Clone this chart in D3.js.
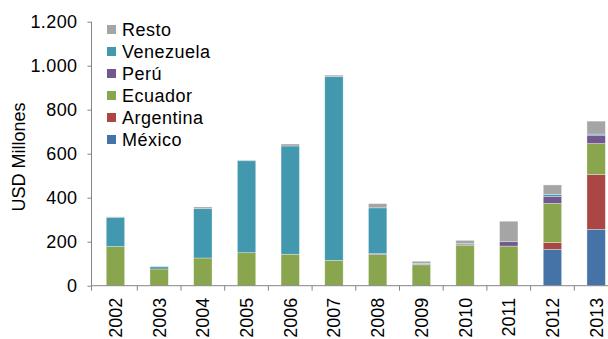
<!DOCTYPE html>
<html>
<head>
<meta charset="utf-8">
<script src="https://cdn.jsdelivr.net/npm/d3@7"></script>
<style>
  body { margin: 0; background: #fff; }
  text { font-family: "Liberation Sans", Arial, sans-serif; fill: #000; }
</style>
</head>
<body>
<svg id="chart" width="608" height="339"></svg>
<script>
// years along the x axis
const years = ['2002', '2003', '2004', '2005', '2006', '2007', '2008', '2009', '2010', '2011', '2012', '2013'];

// stacked series, bottom to top (USD millones)
const mexico    = [0, 0, 0, 0, 0, 0, 0, 0, 0, 0, 165, 256];
const argentina = [0, 0, 0, 0, 0, 0, 0, 0, 0, 0, 31, 249];
const ecuador   = [178, 76, 126, 150, 143, 115, 142, 95, 184, 180, 178, 141];
const peru      = [0, 0, 0, 0, 0, 0, 4, 3, 5, 20, 31, 38];
const venezuela = [133, 10, 224, 418, 492, 835, 208, 3, 2, 0, 10, 5];
const resto     = [2, 2, 8, 3, 9, 7, 19, 10, 15, 93, 43, 59];

const seriesNames = ['México', 'Argentina', 'Ecuador', 'Perú', 'Venezuela', 'Resto'];
const seriesValues = [mexico, argentina, ecuador, peru, venezuela, resto];
const colors = ['#4572A7', '#AA4643', '#89A54E', '#71588F', '#4198AF', '#A5A5A5'];

const yTicks = [0, 200, 400, 600, 800, 1000, 1200];

const svg = d3.select('#chart');
const axisX = 91.5, left = 93.6, step = 43.7;

const x = d3.scaleBand()
  .domain(years)
  .range([left, left + step * years.length])
  .paddingInner(0.58)
  .paddingOuter(0.29);

const y = d3.scaleLinear()
  .domain([0, 1200])
  .range([285.7, 21.7]);

const table = years.map((yr, i) => {
  const row = { year: yr };
  seriesNames.forEach((s, j) => { row[s] = seriesValues[j][i]; });
  return row;
});
const stacked = d3.stack().keys(seriesNames)(table);

// bars
svg.append('g')
  .selectAll('g')
  .data(stacked)
  .join('g')
  .attr('fill', (d, i) => colors[i])
  .selectAll('rect')
  .data(d => d)
  .join('rect')
  .attr('x', d => x(d.data.year))
  .attr('width', x.bandwidth())
  .attr('y', d => y(d[1]))
  .attr('height', d => Math.max(0, y(d[0]) - y(d[1])))
  .attr('stroke', 'rgba(255,255,255,0.45)')
  .attr('stroke-width', 0.7);

// y axis
const yAxis = svg.append('g')
  .attr('transform', 'translate(' + axisX + ',0)')
  .call(d3.axisLeft(y).tickValues(yTicks).tickSize(4).tickPadding(10)
    .tickFormat(d => d3.format(',')(d).replace(/,/g, '.')));
yAxis.select('.domain').attr('stroke', '#868686').attr('d', 'M0,' + y(1200) + 'V' + y(0));
yAxis.selectAll('line').attr('stroke', '#868686');
yAxis.selectAll('text').style('font-size', '18px').attr('letter-spacing', '0.4px');

// x axis with ticks at category boundaries
const xg = svg.append('g');
xg.append('line')
  .attr('x1', axisX).attr('x2', 608)
  .attr('y1', y(0)).attr('y2', y(0))
  .attr('stroke', '#868686');
xg.selectAll('.xt')
  .data(years.slice(1))
  .join('line')
  .attr('class', 'xt')
  .attr('x1', d => x(d) - x.step() * x.paddingInner() / 2)
  .attr('x2', d => x(d) - x.step() * x.paddingInner() / 2)
  .attr('y1', y(0)).attr('y2', y(0) + 5)
  .attr('stroke', '#868686');
xg.append('line')
  .attr('x1', axisX).attr('x2', axisX)
  .attr('y1', y(0)).attr('y2', y(0) + 5)
  .attr('stroke', '#868686');
xg.selectAll('.xl')
  .data(years)
  .join('text')
  .attr('class', 'xl')
  .attr('transform', d => 'translate(' + (x(d) + x.bandwidth() / 2 + 6.5) + ',' + (y(0) + 12) + ') rotate(-90)')
  .attr('text-anchor', 'end')
  .style('font-size', '18px')
  .text(d => d);

// y axis title
svg.append('text')
  .attr('transform', 'translate(25,157) rotate(-90)')
  .attr('text-anchor', 'middle')
  .style('font-size', '18px')
  .text('USD Millones');

// legend, top to bottom in reverse stack order
const legend = svg.append('g')
  .selectAll('g')
  .data(seriesNames.slice().reverse())
  .join('g')
  .attr('transform', (d, i) => 'translate(107,' + (30 + i * 22) + ')');
legend.append('rect')
  .attr('x', 0).attr('y', -5)
  .attr('width', 9).attr('height', 9)
  .attr('fill', d => colors[seriesNames.indexOf(d)]);
legend.append('text')
  .attr('x', 15).attr('y', 6)
  .attr('letter-spacing', '0.5px')
  .style('font-size', '18px')
  .text(d => d);
</script>
</body>
</html>
